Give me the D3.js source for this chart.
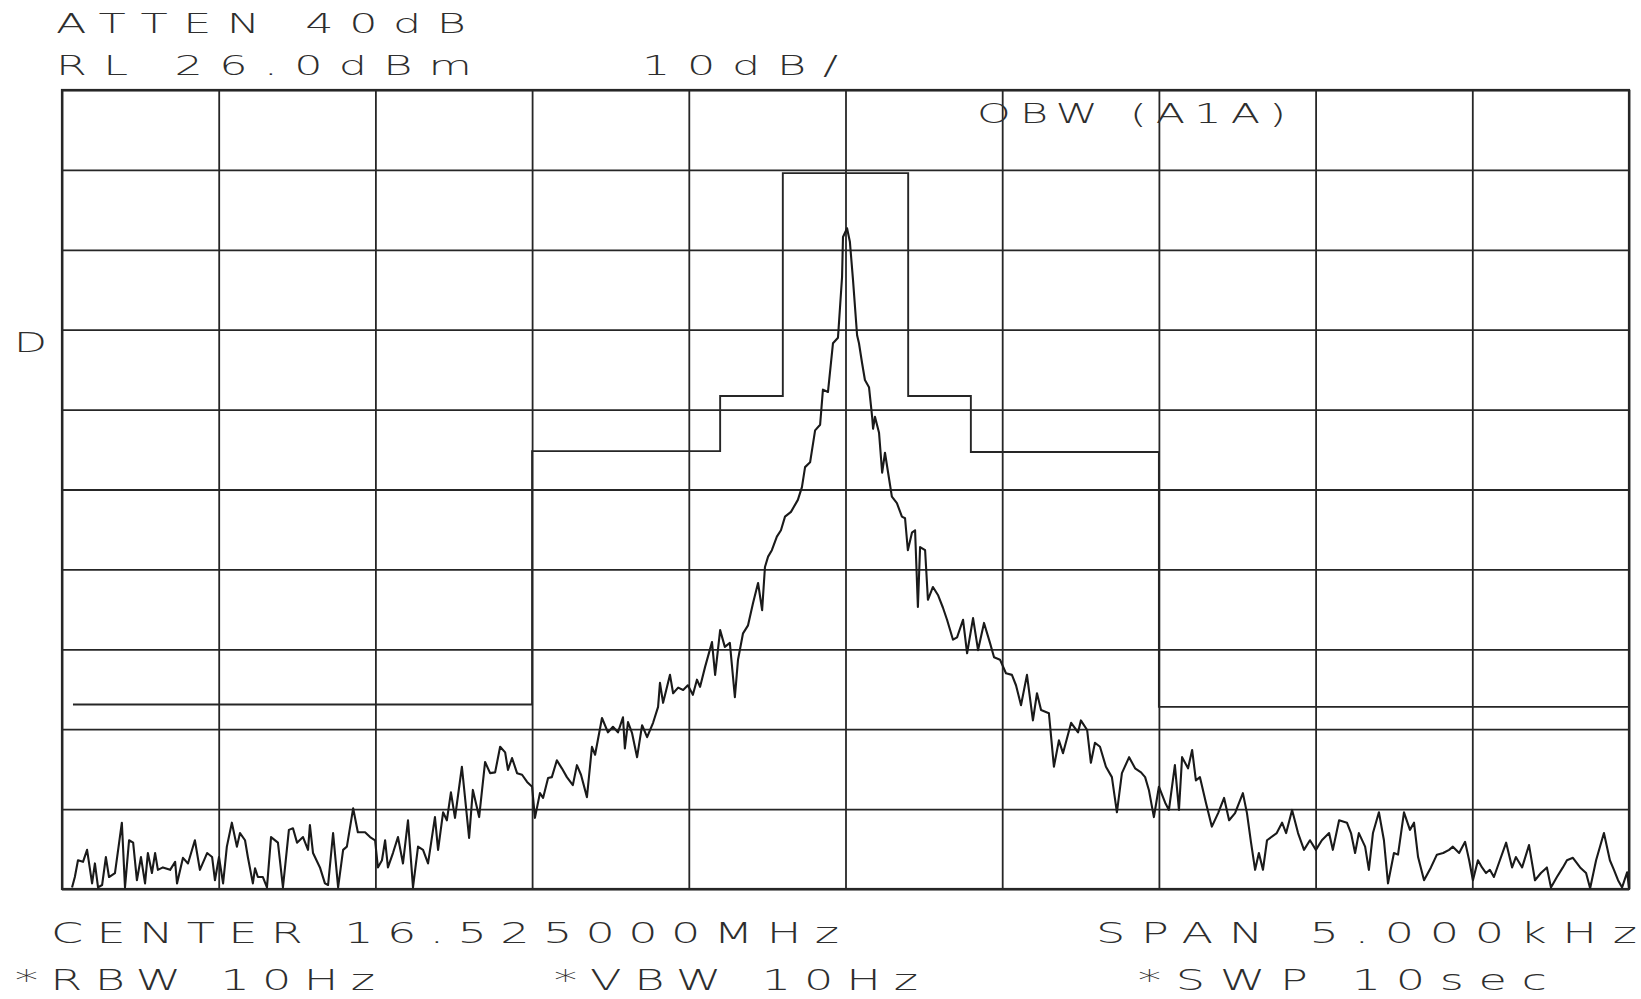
<!DOCTYPE html>
<html>
<head>
<meta charset="utf-8">
<script src="https://cdn.jsdelivr.net/npm/d3@7"></script>
<style>
  html, body { margin: 0; padding: 0; background: #fff; }
  svg { display: block; }
  text { font-family: "DejaVu Sans", "Liberation Sans", sans-serif; font-weight: 200; fill: #2e2e2e; }
</style>
</head>
<body>
<svg id="chart" width="1641" height="999"></svg>
<script>
// ---- instrument settings (text) ----
const headerLines = ["ATTEN 40dB", "RL 26.0dBm", "10dB/"];
const modeLabel = "OBW (A1A)";
const markerLabel = "D";
const footerLines = ["CENTER 16.525000MHz", "SPAN 5.000kHz", "*RBW 10Hz", "*VBW 10Hz", "*SWP 10sec"];

// ---- axes ----
const spanHz = 5000;            // SPAN 5.000 kHz, centred
const refLevelDbm = 26;         // RL 26.0 dBm
const dbPerDiv = 10;            // 10 dB/
const divisions = 10;
const freqTicksHz = [-2500, -2000, -1500, -1000, -500, 0, 500, 1000, 1500, 2000, 2500];
const levelTicksDbm = [26, 16, 6, -4, -14, -24, -34, -44, -54, -64, -74];

// ---- OBW limit mask (offset Hz, dBm) ----
const maskHz  = [-2465, -1000, -1000, -400, -400, -200, -200, 200, 200, 400, 400, 1000, 1000, 2500];
const maskDbm = [-50.9, -50.9, -19.2, -19.2, -12.3, -12.3, 15.6, 15.6, -12.3, -12.3, -19.3, -19.3, -51.2, -51.2];

// ---- measured trace (offset Hz from centre, dBm) ----
const traceHz = [-2468,-2459,-2449,-2433,-2420,-2404,-2395,-2385,-2372,-2360,
-2350,-2331,-2309,-2299,-2286,-2273,-2261,-2248,-2235,-2226,
-2213,-2203,-2194,-2178,-2155,-2139,-2133,-2114,-2098,-2076,
-2060,-2037,-2021,-2012,-1999,-1986,-1974,-1958,-1942,-1932,
-1916,-1907,-1891,-1884,-1875,-1859,-1846,-1833,-1811,-1795,
-1776,-1763,-1750,-1731,-1715,-1709,-1699,-1677,-1661,-1651,
-1635,-1619,-1603,-1591,-1571,-1556,-1533,-1517,-1501,-1492,
-1479,-1469,-1460,-1444,-1428,-1412,-1396,-1380,-1364,-1348,
-1332,-1310,-1300,-1284,-1272,-1259,-1246,-1224,-1201,-1189,
-1169,-1150,-1134,-1118,-1102,-1086,-1077,-1064,-1048,-1032,
-1016,-1000,-991,-975,-965,-949,-937,-921,-905,-889,
-870,-857,-844,-825,-809,-799,-777,-758,-742,-726,
-710,-704,-694,-681,-665,-649,-633,-614,-598,-592,
-582,-560,-550,-534,-518,-503,-487,-474,-464,-448,
-426,-416,-400,-385,-369,-353,-343,-327,-311,-295,
-279,-266,-257,-247,-235,-219,-206,-193,-174,-152,
-139,-129,-113,-97,-81,-72,-56,-40,-24,-11,
-8,5,14,24,37,43,53,62,75,85,
88,94,107,117,126,136,148,164,180,190,
199,212,222,231,238,254,263,279,295,311,
324,343,356,375,388,407,423,442,461,474,
493,512,531,544,560,579,598,611,624,649,
665,681,694,720,742,751,771,783,796,812,
831,850,866,882,905,924,943,956,968,984,
1000,1020,1032,1051,1064,1074,1093,1106,1118,1131,
1150,1169,1189,1208,1224,1243,1268,1281,1294,1307,
1319,1332,1345,1376,1393,1406,1425,1444,1463,1482,
1501,1520,1543,1555,1575,1600,1613,1626,1638,1658,
1670,1683,1702,1718,1731,1750,1763,1782,1801,1814,
1827,1846,1868,1887,1907,1926,1938,1958,1977,1990,
2002,2018,2031,2044,2056,2069,2088,2108,2127,2139,
2159,2181,2200,2219,2238,2251,2270,2289,2302,2321,
2344,2363,2376,2395,2420,2439,2452,2465,2478,2494,2500];

const traceDbm = [-73.8,-72.5,-70.4,-70.6,-69.1,-73.3,-70.8,-73.8,-73.5,-70.0,
-72.5,-72.0,-65.7,-73.8,-67.9,-68.2,-72.9,-70.0,-73.3,-69.5,
-72.0,-69.5,-71.6,-71.3,-71.6,-70.6,-73.3,-70.1,-70.8,-67.9,
-71.6,-69.5,-70.0,-72.9,-70.0,-73.3,-68.7,-65.7,-68.7,-67.0,
-67.9,-70.0,-73.3,-71.4,-72.5,-72.5,-73.8,-67.5,-68.2,-73.8,
-66.6,-66.4,-68.2,-67.5,-69.1,-66.0,-69.5,-71.3,-73.3,-73.5,
-67.0,-73.8,-69.1,-68.7,-63.9,-66.9,-66.9,-67.5,-67.9,-71.3,
-70.4,-67.9,-71.3,-69.5,-67.5,-70.8,-65.4,-73.8,-68.7,-69.1,
-70.8,-65.0,-69.1,-64.4,-65.4,-61.9,-65.1,-58.7,-67.6,-61.6,
-65.0,-58.1,-59.5,-59.4,-56.2,-56.9,-59.1,-57.6,-59.5,-59.7,
-60.6,-61.2,-65.1,-62.0,-62.6,-60.1,-60.0,-57.9,-58.9,-60.0,
-61.0,-58.5,-59.7,-62.5,-56.2,-57.2,-52.6,-54.4,-53.7,-54.4,
-52.5,-56.4,-53.1,-54.5,-57.5,-53.5,-55.0,-53.2,-51.2,-48.2,
-50.7,-47.2,-49.5,-48.8,-49.1,-48.5,-49.7,-47.8,-48.7,-46.2,
-43.1,-47.2,-41.6,-43.7,-43.2,-50.0,-45.3,-42.0,-41.0,-38.2,
-35.7,-39.1,-33.7,-32.4,-31.6,-29.9,-29.1,-27.4,-26.8,-25.3,
-23.7,-21.2,-20.6,-16.6,-15.9,-11.5,-11.8,-5.7,-5.0,2.6,
7.6,8.7,7.0,2.2,-4.7,-5.7,-8.2,-10.3,-11.2,-14.9,
-16.4,-14.9,-16.9,-21.9,-19.4,-21.9,-24.9,-25.7,-27.4,-27.6,
-31.6,-29.4,-29.1,-38.7,-31.2,-31.6,-37.8,-36.2,-37.2,-38.8,
-40.3,-42.8,-42.5,-40.3,-44.5,-40.1,-44.1,-40.7,-43.2,-45.0,
-45.3,-47.0,-47.2,-48.5,-51.0,-47.2,-52.9,-49.5,-51.6,-52.0,
-58.7,-55.4,-57.0,-53.2,-54.4,-52.9,-54.1,-58.2,-55.7,-56.2,
-58.7,-60.0,-64.4,-59.5,-57.5,-58.9,-59.4,-60.0,-61.6,-65.0,
-61.2,-63.2,-64.1,-58.5,-64.1,-57.5,-58.9,-56.6,-60.4,-60.0,
-63.2,-66.2,-64.5,-62.6,-65.4,-64.5,-62.0,-64.5,-68.2,-71.6,
-69.5,-71.6,-67.9,-67.0,-65.7,-67.0,-64.1,-67.0,-69.1,-67.9,
-69.1,-67.9,-67.0,-69.1,-65.4,-65.7,-67.0,-69.5,-67.0,-68.7,
-71.6,-67.0,-64.4,-67.9,-73.3,-69.5,-69.7,-64.4,-66.6,-65.7,
-70.0,-72.9,-71.3,-69.7,-69.5,-69.1,-68.7,-69.5,-68.1,-70.4,
-72.9,-70.4,-71.3,-72.0,-71.6,-72.5,-70.4,-68.2,-71.3,-70.0,
-71.3,-68.5,-72.9,-72.0,-71.3,-73.8,-72.5,-71.3,-70.4,-70.1,
-71.3,-72.0,-73.9,-70.4,-67.0,-70.4,-71.6,-72.9,-73.8,-71.9,-73.9];

// ---- layout ----
const plot = { left: 62, top: 90, width: 1567, height: 799 };
const svg = d3.select("#chart");

const x = d3.scaleLinear().domain([-spanHz / 2, spanHz / 2]).range([plot.left, plot.left + plot.width]);
const y = d3.scaleLinear()
  .domain([refLevelDbm - dbPerDiv * divisions, refLevelDbm])
  .range([plot.top + plot.height, plot.top]);

const ink = "#262626";

// grid via axes
const gx = svg.append("g")
  .attr("transform", `translate(0,${plot.top + plot.height})`)
  .call(d3.axisBottom(x).tickValues(freqTicksHz).tickSize(-plot.height).tickFormat(""));
gx.select(".domain").remove();
gx.selectAll("line").attr("stroke", ink).attr("stroke-width", 1.8);

const gy = svg.append("g")
  .attr("transform", `translate(${plot.left},0)`)
  .call(d3.axisLeft(y).tickValues(levelTicksDbm).tickSize(-plot.width).tickFormat(""));
gy.select(".domain").remove();
gy.selectAll("line").attr("stroke", ink).attr("stroke-width", 1.8);

// border
svg.append("rect")
  .attr("x", x(-spanHz / 2)).attr("y", y(refLevelDbm))
  .attr("width", x(spanHz / 2) - x(-spanHz / 2))
  .attr("height", y(refLevelDbm - dbPerDiv * divisions) - y(refLevelDbm))
  .attr("fill", "none").attr("stroke", ink).attr("stroke-width", 2.2);

// clip
svg.append("clipPath").attr("id", "plotclip").append("rect")
  .attr("x", plot.left).attr("y", plot.top - 1).attr("width", plot.width + 2).attr("height", plot.height + 2);

// mask
const maskPts = maskHz.map((f, i) => [f, maskDbm[i]]);
svg.append("path")
  .datum(maskPts)
  .attr("fill", "none").attr("stroke", ink).attr("stroke-width", 1.9)
  .attr("d", d3.line().x(d => x(d[0])).y(d => y(d[1])));

// trace
const n = Math.min(traceHz.length, traceDbm.length);
const tracePts = d3.range(n).map(i => [traceHz[i], traceDbm[i]]);
svg.append("path")
  .datum(tracePts)
  .attr("clip-path", "url(#plotclip)")
  .attr("fill", "none").attr("stroke", "#1a1a1a").attr("stroke-width", 2.1)
  .attr("stroke-linejoin", "round")
  .attr("d", d3.line().x(d => x(d[0])).y(d => y(Math.max(d[1], refLevelDbm - dbPerDiv * divisions))));

// plotter-style text
const sx = 1.65;
function plotText(str, left, base, width, size) {
  svg.append("text")
    .attr("transform", `translate(${left},${base}) scale(${sx},1)`)
    .attr("x", 0).attr("y", 0)
    .attr("font-size", size)
    .attr("textLength", width / sx)
    .attr("lengthAdjust", "spacing")
    .text(str);
}
plotText(headerLines[0], 56, 33, 410, 27);
plotText(headerLines[1], 56, 75, 416, 27);
plotText(headerLines[2], 642, 75, 196, 27);
plotText(modeLabel, 977, 123, 309, 26);
plotText(markerLabel, 14, 352, 32, 26);
plotText(footerLines[0], 51, 943, 788, 28);
plotText(footerLines[1], 1096, 943, 541, 28);
plotText(footerLines[2], 15, 990, 360, 28);
plotText(footerLines[3], 554, 990, 364, 28);
plotText(footerLines[4], 1138, 990, 409, 28);
</script>
</body>
</html>
